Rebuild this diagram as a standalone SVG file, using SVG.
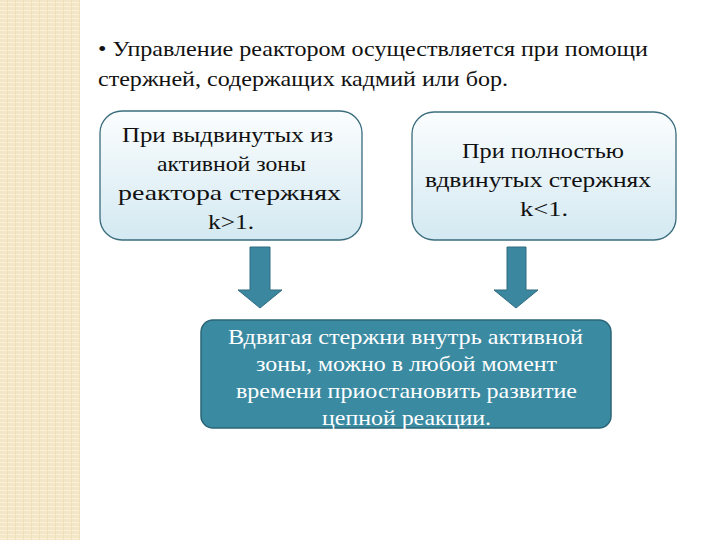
<svg xmlns="http://www.w3.org/2000/svg" width="720" height="540" viewBox="0 0 720 540">
<defs>
<pattern id="st" width="8" height="4" patternUnits="userSpaceOnUse">
<rect width="8" height="4" fill="#f3e6c6"/><rect y="2" width="8" height="1" fill="#faf1da"/><rect x="7" width="1" height="4" fill="#efe0bb"/>
</pattern>
<linearGradient id="g" x1="0" y1="0" x2="0" y2="1"><stop offset="0" stop-color="#fbfdfe"/><stop offset="1" stop-color="#d3e9f1"/></linearGradient>
<style>
text{font-family:'Liberation Serif','DejaVu Serif','Times New Roman',serif}
.t{font-size:21px;fill:#111}
.b{fill:url(#g);stroke:#3a6c7c;stroke-width:1.3}
.w{font-size:21px;fill:#fff}
.a{fill:#3b87a0;stroke:#2e6c80;stroke-width:1}
</style>
</defs>
<rect width="720" height="540" fill="#fff"/>
<rect width="80" height="540" fill="url(#st)"/>
<text class="t" x="98" y="56" textLength="550" lengthAdjust="spacingAndGlyphs">• Управление реактором осуществляется при помощи</text>
<text class="t" x="98" y="86" textLength="410" lengthAdjust="spacingAndGlyphs">стержней, содержащих кадмий или бор.</text>
<g id="n1"><rect class="b" x="100" y="111" width="262" height="129" rx="22"/>
<text class="t" x="122" y="142" textLength="211" lengthAdjust="spacingAndGlyphs">При выдвинутых из</text>
<text class="t" x="157" y="171" textLength="149" lengthAdjust="spacingAndGlyphs">активной зоны</text>
<text class="t" x="118" y="200" textLength="223" lengthAdjust="spacingAndGlyphs">реактора стержнях</text>
<text class="t" x="208" y="229" textLength="46" lengthAdjust="spacingAndGlyphs">k&gt;1.</text></g>
<g id="n2"><rect class="b" x="412" y="112" width="264" height="128" rx="22"/>
<text class="t" x="462" y="158" textLength="162" lengthAdjust="spacingAndGlyphs">При полностью</text>
<text class="t" x="425" y="187" textLength="226" lengthAdjust="spacingAndGlyphs">вдвинутых стержнях</text>
<text class="t" x="520" y="216" textLength="48" lengthAdjust="spacingAndGlyphs">k&lt;1.</text></g>
<g id="connectors">
<path class="a" d="M250 247H270V290H282L260 308L238 290H250Z"/>
<path class="a" d="M507 247H526V290H538L516 308L494 290H507Z"/>
</g>
<g id="n3"><rect x="201" y="320" width="410" height="108" rx="12" fill="#3a8aa2" stroke="#2b6577" stroke-width="1.5"/>
<text class="w" x="228" y="344" textLength="355" lengthAdjust="spacingAndGlyphs">Вдвигая стержни внутрь активной</text>
<text class="w" x="256" y="371" textLength="301" lengthAdjust="spacingAndGlyphs">зоны, можно в любой момент</text>
<text class="w" x="236" y="398" textLength="341" lengthAdjust="spacingAndGlyphs">времени приостановить развитие</text>
<text class="w" x="322" y="425" textLength="169" lengthAdjust="spacingAndGlyphs">цепной реакции.</text></g>
</svg>
